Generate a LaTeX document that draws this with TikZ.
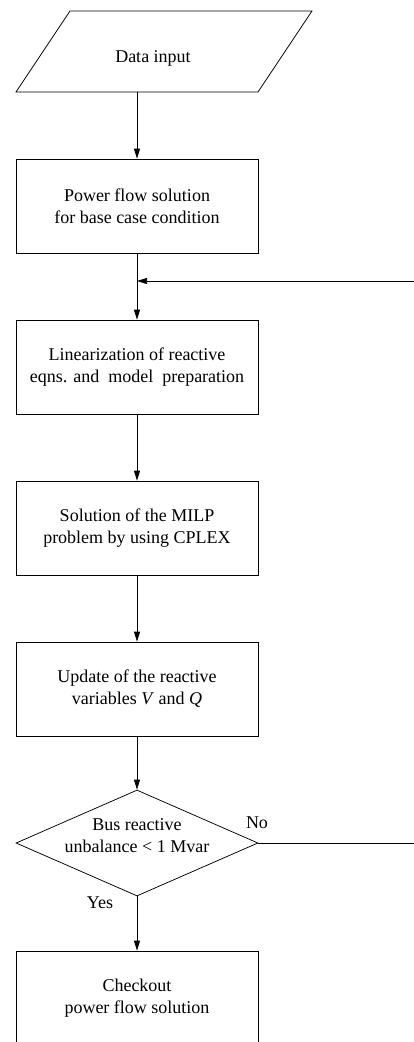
\documentclass[tikz,border=0pt]{standalone}
\usepackage{fontspec}
\setmainfont{Liberation Serif}
\usetikzlibrary{shapes.geometric,arrows.meta}
\begin{document}
\begin{tikzpicture}[x=1pt,y=-1pt,
  every node/.style={font=\fontsize{18}{22}\selectfont},
  line/.style={line width=0.75pt},
  arr/.style={line, -{Triangle[length=10pt,width=6pt]}},
  procbox/.style={draw, line width=0.75pt, rectangle, minimum width=242pt, minimum height=94pt, align=center, inner sep=0pt},
  txt/.style={align=center, inner sep=0pt}]
\useasboundingbox (0,0) rectangle (414,1042);
% data input (parallelogram)
\draw[line] (70,11) -- (312,11) -- (258,92) -- (16,92) -- cycle;
\node[txt] (data) at (153,58) {Data input};
\coordinate (datab) at (137,92);
% boxes
\node[procbox] (pf) at (137,206) {Power flow solution\\for base case condition};
\node[procbox] (lin) at (137,367) {Linearization of reactive\\eqns. and~ model~ preparation};
\node[procbox] (milp) at (137,528) {Solution of the MILP\\problem by using CPLEX};
\node[procbox] (upd) at (137,689) {Update of the reactive\\variables \textit{V} and \textit{Q}};
\node[draw, line width=0.75pt, diamond, minimum width=242pt, minimum height=106pt, inner sep=0pt] (dec) at (137,843) {};
\node[txt] (dectxt) at (137,836) {Bus reactive\\unbalance < 1 Mvar};
\node[procbox] (chk) at (137,998) {Checkout\\power flow solution};
% labels
\node[txt] (no) at (257,823) {No};
\node[txt] (yes) at (100,903) {Yes};
% connectors
\coordinate (join) at (137,281);
\coordinate (fbr) at (415,843);
\coordinate (fbt) at (415,281);
\draw[arr] (datab) -- (pf.north);
\draw[arr] (pf.south) -- (lin.north);
\draw[arr] (lin.south) -- (milp.north);
\draw[arr] (milp.south) -- (upd.north);
\draw[arr] (upd.south) -- (dec.north);
\draw[arr] (dec.south) -- (chk.north);
\draw[arr] (dec.east) -- (fbr) -- (fbt) -- (join);
\end{tikzpicture}
\end{document}
